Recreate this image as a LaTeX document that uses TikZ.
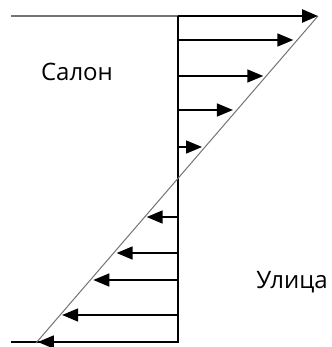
\documentclass[tikz,border=0pt]{standalone}
\usepackage{fontspec}
\setmainfont{Open Sans}
\usetikzlibrary{arrows.meta,calc}

\begin{document}
\begin{tikzpicture}[x=0.5pt, y=-0.5pt, font=\fontsize{12}{14}\selectfont,
  wall/.style={draw, black, line width=0.8pt},
  edge/.style={draw, black!55, line width=0.5pt},
  vec/.style={black, line width=0.8pt, -{Triangle[length=8pt, width=6.5pt]}}]
\useasboundingbox (0,0) rectangle (331,347);
% wall, velocity profile
\coordinate (ltop) at (11,16);
\coordinate (wtop) at (178,16);
\coordinate (wbot) at (178,342);
\coordinate (lbot) at (11,342);
\coordinate (dtop) at (318,16);
\coordinate (dbot) at (36,343);
\draw[edge, line width=0.8pt] (ltop) -- (wtop);
\draw[wall] (wtop) -- (wbot) -- (lbot);
\draw[edge] (dtop) -- (dbot);
\draw[vec, line width=1.3pt] (wtop) -- (dtop);
\foreach \y/\d in {40/4,76/3,110/4,147/3,217/-2,253/-3,280/-3,315/-2,342/-1} {
  \pgfmathsetmacro\x{318-0.8624*(\y-16)-\d}
  \coordinate (s) at (178,\y);
  \coordinate (e) at (\x,\y);
  \draw[vec] (s) -- (e);
}
\node (salon) at (77,72) {Салон};
\node (ulica) at (292,282) {Улица};
\end{tikzpicture}
\end{document}
